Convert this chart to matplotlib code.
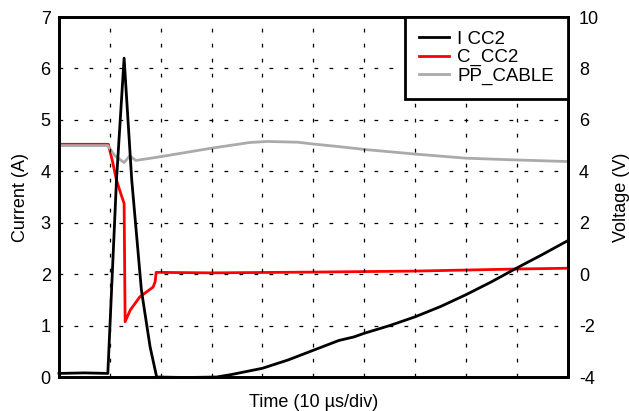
import matplotlib
matplotlib.use("Agg")
import matplotlib.pyplot as plt
from matplotlib.lines import Line2D

plt.rcParams['font.family'] = ['Liberation Sans', 'DejaVu Sans']
plt.rcParams['axes.unicode_minus'] = False

# time in divisions (10 us/div)
i_cc2_t = [0, 0.5, 0.96, 1.13, 1.28, 1.43, 1.62, 1.79, 1.92, 2.5, 3.1, 3.4,
           4.0, 4.5, 5.0, 5.5, 5.8, 6.0, 6.5, 7.0, 7.5, 8.0, 8.5, 9.0, 9.5, 10.0]
i_cc2 = [0.07, 0.08, 0.07, 3.83, 6.2, 3.83, 1.69, 0.59, 0.0, -0.01, 0.0, 0.05,
         0.17, 0.33, 0.52, 0.71, 0.78, 0.85, 1.0, 1.17, 1.37, 1.6, 1.85, 2.12, 2.38, 2.65]

c_cc2_t = [0, 0.97, 1.05, 1.13, 1.22, 1.28, 1.30, 1.4, 1.59, 1.75, 1.85, 1.89,
           1.91, 3.0, 5.0, 7.0, 9.0, 10.0]
c_cc2 = [5.05, 5.05, 4.4, 3.66, 3.1, 2.75, -1.85, -1.4, -0.88, -0.65, -0.5, -0.3,
         0.07, 0.05, 0.08, 0.12, 0.2, 0.23]

pp_t = [0, 0.96, 1.1, 1.28, 1.39, 1.51, 2.0, 3.0, 3.75, 4.1, 4.7, 5.0, 5.5,
        6.0, 7.0, 8.0, 9.0, 10.0]
pp_cable = [5.0, 5.0, 4.6, 4.34, 4.6, 4.42, 4.57, 4.9, 5.12, 5.16, 5.13, 5.06,
            4.96, 4.85, 4.67, 4.51, 4.44, 4.38]

fig = plt.figure(figsize=(6.29, 4.11), dpi=100)
ax = fig.add_axes([0.0938, 0.0827, 0.8087, 0.8759])
ax2 = ax.twinx()

# current axis on top so the black trace is drawn over the voltages
ax.set_zorder(ax2.get_zorder() + 1)
ax.patch.set_visible(False)

ax2.plot(c_cc2_t, c_cc2, color='#ff0000', lw=2.0)
ax2.plot(pp_t, pp_cable, color='#aaaaaa', lw=2.0)
ax.plot(i_cc2_t, i_cc2, color='black', lw=2.0, clip_on=False)

ax.set_xlim(0, 10)
ax.set_ylim(0, 7)
ax2.set_ylim(-4, 10)
ax.set_xticks(range(0, 11))
ax.set_yticks(range(0, 8))
ax2.set_yticks(range(-4, 11, 2))
ax.set_xticklabels([])

ax.grid(True, color='black', lw=0.9, linestyle=(0, (3, 9)))

ax.tick_params(axis='both', length=0, labelsize=13, pad=6)
ax2.tick_params(axis='y', length=0, labelsize=13, pad=8)
for a in (ax, ax2):
    for s in a.spines.values():
        s.set_linewidth(2.0)
        s.set_color('black')

ax.set_xlabel('Time (10 µs/div)', fontsize=13, labelpad=6)
ax.set_ylabel('Current (A)', fontsize=13, labelpad=8)
ax2.set_ylabel('Voltage (V)', fontsize=13, labelpad=10)

handles = [Line2D([], [], color='black', lw=2.0),
           Line2D([], [], color='#ff0000', lw=2.0),
           Line2D([], [], color='#aaaaaa', lw=2.0)]
leg = ax.legend(handles, ['I CC2', 'C_CC2', 'PP_CABLE'], loc='upper right',
                fontsize=13.5, fancybox=False, framealpha=1, edgecolor='black',
                borderaxespad=0, labelspacing=0.07, handlelength=1.6,
                handletextpad=0.45, borderpad=0.73)
leg.get_frame().set_linewidth(2.0)

fig.savefig('out.png', dpi=100)
